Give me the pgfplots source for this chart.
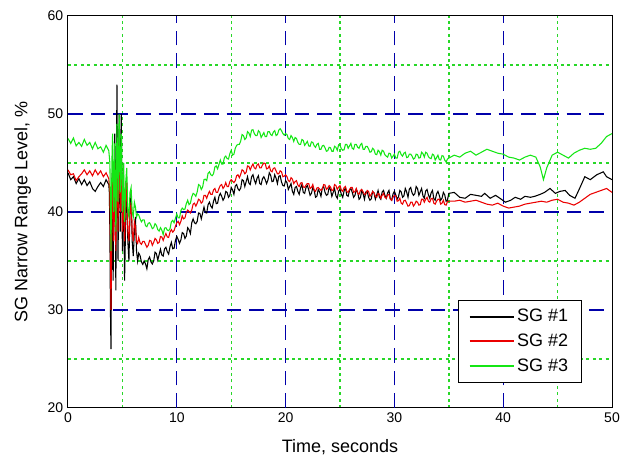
\documentclass[border=0pt]{standalone}
\usepackage{pgfplots}
\pgfplotsset{compat=1.18}
\usepackage{fontspec}
\setmainfont{Liberation Sans}
\definecolor{gridblue}{RGB}{0,0,170}
\definecolor{gridgreen}{RGB}{40,215,40}
\definecolor{sgred}{RGB}{235,0,0}
\definecolor{sggreen}{RGB}{20,230,20}
\pgfplotsset{
  legend image code/.code={\draw[#1, line width=1.3pt] (0pt,0pt) -- (33pt,0pt);},
}
\begin{document}
\begin{tikzpicture}
\begin{axis}[
  name=ax,
  scale only axis,
  width=408pt, height=294pt,
  xmin=0, xmax=50, ymin=20, ymax=60,
  xtick={0,10,...,50}, ytick={20,30,...,60},
  minor xtick={5,15,...,45}, minor ytick={25,35,45,55},
  xmajorgrids=false, ymajorgrids=false, xminorgrids=true, yminorgrids=true,
  extra x ticks={10,20,30,40}, extra x tick labels={},
  extra x tick style={xmajorgrids=true, xminorgrids=false},
  extra y ticks={30,40,50}, extra y tick labels={},
  extra y tick style={ymajorgrids=true, yminorgrids=false},
  major grid style={gridblue, line width=1.0pt, dash pattern=on 11pt off 6pt},
  minor grid style={gridgreen, line width=1.05pt, dash pattern=on 2.2pt off 2.6pt},
  major tick length=0pt, minor tick length=0pt,
  axis line style={black, line width=0.75pt},
  /pgf/number format/assume math mode=true,
  ticklabel style={font=\fontsize{10.5}{12}\selectfont},
  xlabel={Time, seconds},
  ylabel={SG Narrow Range Level, \%},
  label style={font=\fontsize{13.5}{16}\selectfont},
  xlabel style={yshift=-6pt},
  ylabel style={yshift=5.5pt},
  legend style={at={(0.945,0.064)}, anchor=south east, draw=black, line width=0.75pt,
    font=\fontsize{13.5}{16}\selectfont, row sep=3.5pt, inner xsep=8pt, inner ysep=5pt},
  legend cell align=left,
]
% SG #1
\addplot[black, line width=0.8pt] table {
0 44.0
0.25 43.3
0.5 43.6
0.75 42.9
1.0 43.4
1.25 42.8
1.5 43.3
1.75 42.7
2.0 43.1
2.25 42.4
2.5 42.1
2.75 42.6
3.0 43.0
3.25 42.6
3.5 43.3
3.75 42.8
3.8 42
3.85 38
3.9 30
3.95 26
4.0 35
4.05 44
4.1 38
4.15 33
4.2 41
4.3 48
4.35 40
4.4 32
4.45 45
4.5 53
4.55 44
4.6 35
4.65 42
4.7 50
4.75 46
4.8 38
4.85 47
4.9 50
4.95 42
5.0 36
5.05 40
5.1 45
5.15 38
5.2 33
5.3 39
5.4 43
5.5 37
5.6 35
5.7 40
5.8 42
5.9 37
6.0 35.5
6.1 38
6.2 39.5
6.3 36
6.4 35
6.5 35.8
6.625 35.55
6.75 34.9
6.875 34.65
7.0 35.0
7.125 34.7
7.25 34.2
7.375 35.15
7.5 35.4
7.625 34.9
7.75 34.7
7.875 35.0
8.0 35.9
8.125 35.75
8.25 35.1
8.375 35.65
8.5 36.2
8.625 35.6
8.75 35.5
8.875 36.25
9.0 36.4
9.125 35.95
9.25 35.7
9.375 36.45
9.5 36.9
9.625 36.25
9.75 36.3
9.875 37.1
10.0 37.5
10.125 37.2
10.25 36.8
10.375 37.15
10.5 37.9
10.625 37.8
10.75 37.3
10.875 37.55
11.0 38.4
11.125 38.2
11.25 37.8
11.375 38.9
11.5 39.3
11.625 38.9
11.75 38.8
11.875 39.05
12.0 39.9
12.125 39.85
12.25 39.3
12.375 39.9
12.5 40.5
12.625 39.95
12.75 39.9
12.875 40.75
13.0 41.0
13.125 40.6
13.25 40.4
13.375 41.1
13.5 41.5
13.625 40.85
13.75 40.9
13.875 41.6
14.0 41.9
14.125 41.6
14.25 41.2
14.375 41.45
14.5 42.1
14.625 42.0
14.75 41.5
14.875 41.7
15.0 42.5
15.125 42.25
15.25 41.8
15.375 42.65
15.5 42.8
15.625 42.35
15.75 42.2
15.875 42.45
16.0 43.3
16.125 43.2
16.25 42.6
16.375 43.1
16.5 43.6
16.625 42.95
16.75 42.8
16.875 43.6
17.0 43.8
17.125 43.25
17.25 42.9
17.375 43.45
17.5 43.7
17.625 42.9
17.75 42.8
17.875 43.4
18.0 43.6
18.125 43.3
18.25 42.9
18.375 43.25
18.5 44.0
18.625 43.75
18.75 43.1
18.875 43.15
19.0 43.8
19.125 43.45
19.25 42.9
19.375 43.65
19.5 43.7
19.625 43.05
19.75 42.7
19.875 42.65
20.0 43.2
20.125 43.0
20.25 42.3
20.375 42.6
20.5 42.9
20.625 42.1
20.75 41.8
20.875 42.5
21.0 42.6
21.125 42.1
21.25 41.8
21.375 42.45
21.5 42.8
21.625 42.0
21.75 41.9
21.875 42.5
22.0 42.7
22.125 42.25
22.25 41.7
22.375 41.9
22.5 42.5
22.625 42.2
22.75 41.5
22.875 41.6
23.0 42.3
23.125 42.05
23.25 41.6
23.375 42.45
23.5 42.6
23.625 42.0
23.75 41.7
23.875 41.8
24.0 42.5
24.125 42.3
24.25 41.6
24.375 42.0
24.5 42.4
24.625 41.65
24.75 41.4
24.875 42.15
25.0 42.3
25.125 41.8
25.25 41.5
25.375 42.15
25.5 42.5
25.625 41.7
25.75 41.6
25.875 42.2
26.0 42.4
26.125 42.0
26.25 41.5
26.375 41.7
26.5 42.3
26.625 42.0
26.75 41.3
26.875 41.45
27.0 42.2
27.125 41.85
27.25 41.3
27.375 42.05
27.5 42.1
27.625 41.5
27.75 41.2
27.875 41.35
28.0 42.1
28.125 41.95
28.25 41.3
28.375 41.75
28.5 42.2
28.625 41.5
28.75 41.3
28.875 42.05
29.0 42.2
29.125 41.7
29.25 41.4
29.375 41.95
29.5 42.2
29.625 41.35
29.75 41.2
29.875 41.85
30.0 42.1
30.125 41.75
30.25 41.3
30.375 41.55
30.5 42.2
30.625 42.05
30.75 41.5
30.875 41.65
31.0 42.4
31.125 42.05
31.25 41.5
31.375 42.35
31.5 42.5
31.625 41.95
31.75 41.7
31.875 41.85
32.0 42.6
32.125 42.4
32.25 41.7
32.375 42.05
32.5 42.4
32.625 41.65
32.75 41.4
32.875 42.15
33.0 42.3
33.125 41.75
33.25 41.4
33.375 41.95
33.5 42.2
33.625 41.35
33.75 41.2
33.875 41.85
34.0 42.1
34.125 41.7
34.25 41.2
34.375 41.4
34.5 42.0
34.625 41.75
34.75 41.1
34.875 41.2
35.0 41.9
35.5 42.0
36 41.5
36.5 41.4
37 41.8
37.5 41.7
38 41.6
38.3 41.9
38.8 41.4
39.3 41.7
39.7 41.4
40.2 41.0
40.7 41.2
41.1 41.5
41.6 41.3
42 41.6
42.5 41.5
42.9 41.6
43.4 41.8
43.8 42.0
44.3 42.4
44.8 41.9
45.2 42.1
45.7 42.2
46.1 41.7
46.6 41.4
47.1 42.6
47.5 43.6
48 43.3
48.6 43.8
49.2 44.1
49.5 43.6
50 43.3
};
\addlegendentry{SG \#1}
% SG #2
\addplot[sgred, line width=0.8pt] table {
0 44.3
0.25 43.8
0.5 43.9
0.75 43.2
1.0 43.6
1.25 43.9
1.5 44.3
1.75 43.8
2.0 44.2
2.25 43.7
2.5 44.3
2.75 43.8
3.0 44.2
3.25 43.6
3.5 44.0
3.75 43.4
3.85 42
3.9 36
3.95 30
4.0 35
4.05 41
4.1 44
4.15 40
4.2 37
4.25 41
4.3 45
4.35 40
4.4 36
4.45 42
4.5 46
4.55 43
4.6 38
4.65 43
4.7 47
4.75 44
4.8 40
4.85 43
4.9 46
4.95 42
5.0 38
5.05 40
5.1 43
5.15 40
5.2 37
5.3 41
5.4 43
5.5 38
5.6 37
5.7 40
5.8 41
5.9 38
6.0 37
6.1 39
6.2 38.5
6.3 37
6.4 36.8
6.5 37.4
6.625 36.85
6.75 36.7
6.875 37.0
7.0 37.0
7.125 36.7
7.25 36.4
7.375 36.6
7.5 37.1
7.625 37.05
7.75 36.6
7.875 36.9
8.0 37.3
8.125 37.15
8.25 36.8
8.375 36.9
8.5 37.5
8.625 37.45
8.75 37.1
8.875 37.5
9.0 37.8
9.125 37.45
9.25 37.4
9.375 37.95
9.5 38.2
9.625 37.95
9.75 38.1
9.875 38.55
10.0 38.9
10.125 39.05
10.25 38.7
10.375 39.05
10.5 39.6
10.625 39.3
10.75 39.4
10.875 39.95
11.0 40.2
11.125 40.05
11.25 39.9
11.375 40.2
11.5 40.8
11.625 40.9
11.75 40.6
11.875 40.9
12.0 41.3
12.125 41.2
12.25 40.9
12.375 41.05
12.5 41.7
12.625 41.7
12.75 41.4
12.875 41.8
13.0 42.1
13.125 41.8
13.25 41.8
13.375 42.25
13.5 42.4
13.625 42.0
13.75 42.0
13.875 42.4
14.0 42.7
14.125 42.8
14.25 42.4
14.375 42.6
14.5 43.0
14.625 42.6
14.75 42.6
14.875 43.1
15.0 43.3
15.125 43.15
15.25 43.0
15.375 43.2
15.5 43.7
15.625 43.8
15.75 43.5
15.875 43.85
16.0 44.3
16.125 44.2
16.25 43.9
16.375 44.05
16.5 44.7
16.625 44.65
16.75 44.3
16.875 44.65
17.0 44.9
17.125 44.5
17.25 44.4
17.375 44.8
17.5 44.9
17.625 44.5
17.75 44.5
17.875 44.8
18.0 45.0
18.125 44.95
18.25 44.4
18.375 44.45
18.5 44.7
18.625 44.2
18.75 44.1
18.875 44.45
19.0 44.5
19.125 44.2
19.25 43.9
19.375 43.9
19.5 44.2
19.625 44.1
19.75 43.6
19.875 43.65
20.0 43.8
20.125 43.6
20.25 43.2
20.375 43.1
20.5 43.5
20.625 43.35
20.75 42.9
20.875 43.1
21.0 43.2
21.125 42.75
21.25 42.6
21.375 42.95
21.5 43.0
21.625 42.55
21.75 42.5
21.875 42.75
22.0 42.9
22.125 42.9
22.25 42.4
22.375 42.5
22.5 42.8
22.625 42.25
22.75 42.1
22.875 42.45
23.0 42.5
23.125 42.35
23.25 42.2
23.375 42.35
23.5 42.8
23.625 42.75
23.75 42.3
23.875 42.45
24.0 42.7
24.125 42.55
24.25 42.2
24.375 42.25
24.5 42.8
24.625 42.7
24.75 42.3
24.875 42.55
25.0 42.7
25.125 42.25
25.25 42.1
25.375 42.5
25.5 42.6
25.625 42.1
25.75 42.0
25.875 42.3
26.0 42.5
26.125 42.5
26.25 42.0
26.375 42.1
26.5 42.4
26.625 41.9
26.75 41.8
26.875 42.2
27.0 42.3
27.125 42.05
27.25 41.8
27.375 41.85
27.5 42.2
27.625 42.1
27.75 41.6
27.875 41.8
28.0 42.1
28.125 41.95
28.25 41.6
28.375 41.5
28.5 41.9
28.625 41.8
28.75 41.4
28.875 41.7
29.0 41.9
29.125 41.5
29.25 41.4
29.375 41.75
29.5 41.8
29.625 41.3
29.75 41.2
29.875 41.5
30.0 41.7
30.125 41.65
30.25 41.1
30.375 41.15
30.5 41.4
30.625 40.9
30.75 40.8
30.875 41.15
31.0 41.2
31.125 40.9
31.25 40.6
31.375 40.65
31.5 41.0
31.625 41.0
31.75 40.6
31.875 40.8
32.0 41.1
32.125 41.0
32.25 40.7
32.375 40.75
32.5 41.3
32.625 41.3
32.75 41.0
32.875 41.3
33.0 41.5
33.125 41.1
33.25 41.0
33.375 41.35
33.5 41.4
33.625 40.9
33.75 40.8
33.875 41.1
34.0 41.3
34.125 41.3
34.25 40.8
34.375 40.9
34.5 41.2
34.625 40.75
34.75 40.7
34.875 41.05
35.0 41.1
35.5 41.1
36 41.2
36.5 41.0
37 41.1
37.5 41.2
38 41.0
38.5 40.8
39 40.7
39.5 40.9
40 40.6
40.5 40.4
41 40.5
41.5 40.6
42 40.8
42.5 40.9
43 41.0
43.5 41.1
44 41.0
44.5 41.2
45 41.3
45.5 41.0
46 40.9
46.5 40.7
47 41.0
47.5 41.4
48 41.8
48.5 42.0
49 42.2
49.5 42.4
50 42.0
};
\addlegendentry{SG \#2}
% SG #3
\addplot[sggreen, line width=0.8pt] table {
0 47.5
0.25 47.0
0.5 47.55
0.75 46.75
1.0 47.1
1.25 46.7
1.5 47.4
1.75 46.8
2.0 47.1
2.25 46.45
2.5 47.1
2.75 46.45
3.0 46.65
3.25 46.1
3.5 46.8
3.75 46.25
3.85 45
3.9 41
3.95 36
4.0 41
4.05 46
4.1 48
4.15 44
4.2 40
4.25 43
4.3 47
4.35 42
4.4 38
4.45 43
4.5 49
4.55 46
4.6 41
4.65 45
4.7 50
4.75 47
4.8 42
4.85 45
4.9 48
4.95 44
5.0 40
5.05 42
5.1 45
5.15 42
5.2 39
5.3 43
5.4 44.5
5.5 40
5.6 39.5
5.7 42
5.8 42.5
5.9 40
6.0 39.5
6.1 41
6.2 40.5
6.3 39.5
6.4 39.8
6.5 39.7
6.625 39.3
6.75 39.0
6.875 39.2
7.0 39.2
7.125 38.6
7.25 38.5
7.375 38.85
7.5 38.9
7.625 38.65
7.75 38.3
7.875 38.4
8.0 38.8
8.125 38.65
8.25 38.2
8.375 38.05
8.5 38.4
8.625 38.15
8.75 37.7
8.875 38.35
9.0 38.4
9.125 38.15
9.25 38.1
9.375 38.3
9.5 39.0
9.625 39.15
9.75 38.9
9.875 39.35
10.0 39.8
10.125 39.4
10.25 39.4
10.375 40.15
10.5 40.4
10.625 40.25
10.75 40.3
10.875 40.85
11.0 41.2
11.125 40.75
11.25 40.9
11.375 41.55
11.5 41.9
11.625 41.8
11.75 41.6
11.875 42.05
12.0 42.8
12.125 42.7
12.25 42.3
12.375 42.55
12.5 43.3
12.625 43.35
12.75 43.2
12.875 43.95
13.0 44.1
13.125 43.8
13.25 43.7
13.375 43.9
13.5 44.6
13.625 44.7
13.75 44.4
13.875 44.85
14.0 45.3
14.125 44.9
14.25 44.9
14.375 45.55
14.5 45.7
14.625 45.45
14.75 45.4
14.875 45.95
15.0 46.3
15.125 45.8
15.25 45.9
15.375 46.5
15.5 46.8
15.625 46.9
15.75 46.9
15.875 47.25
16.0 47.9
16.125 47.8
16.25 47.4
16.375 47.55
16.5 48.2
16.625 48.05
16.75 47.7
16.875 48.35
17.0 48.4
17.125 48.0
17.25 47.8
17.375 47.8
17.5 48.3
17.625 48.15
17.75 47.6
17.875 47.85
18.0 48.1
18.125 47.7
18.25 47.7
18.375 48.2
18.5 48.2
18.625 47.9
18.75 47.8
18.875 48.15
19.0 48.3
19.125 47.8
19.25 47.9
19.375 48.35
19.5 48.5
19.625 48.3
19.75 48.0
19.875 47.85
20.0 48.0
20.125 47.9
20.25 47.5
20.375 47.4
20.5 47.8
20.625 47.6
20.75 47.2
20.875 47.6
21.0 47.5
21.125 47.1
21.25 46.9
21.375 46.9
21.5 47.4
21.625 47.3
21.75 46.8
21.875 47.0
22.0 47.2
22.125 46.75
22.25 46.7
22.375 47.15
22.5 47.1
22.625 46.75
22.75 46.6
22.875 46.9
23.0 47.0
23.125 46.4
23.25 46.4
23.375 46.75
23.5 46.8
23.625 46.55
23.75 46.2
23.875 46.25
24.0 46.6
24.125 46.55
24.25 46.2
24.375 46.2
24.5 46.7
24.625 46.6
24.75 46.3
24.875 46.85
25.0 46.8
25.125 46.45
25.25 46.3
25.375 46.35
25.5 46.9
25.625 46.9
25.75 46.5
25.875 46.75
26.0 47.0
26.125 46.5
26.25 46.4
26.375 46.9
26.5 46.9
26.625 46.6
26.75 46.5
26.875 46.85
27.0 47.0
27.125 46.4
27.25 46.4
27.375 46.7
27.5 46.7
27.625 46.45
27.75 46.1
27.875 46.15
28.0 46.5
28.125 46.35
28.25 45.9
28.375 45.85
28.5 46.3
28.625 46.15
28.75 45.8
28.875 46.3
29.0 46.2
29.125 45.85
29.25 45.7
29.375 45.6
29.5 46.0
29.625 45.95
29.75 45.5
29.875 45.7
30.0 45.9
30.125 45.5
30.25 45.5
30.375 46.1
30.5 46.2
30.625 45.85
30.75 45.7
30.875 46.0
31.0 46.1
31.125 45.55
31.25 45.6
31.375 45.9
31.5 45.9
31.625 45.7
31.75 45.4
31.875 45.5
32.0 45.9
32.125 45.85
32.25 45.5
32.375 45.55
32.5 46.1
32.625 45.95
32.75 45.6
32.875 46.1
33.0 46.0
33.125 45.65
33.25 45.5
33.375 45.45
33.5 45.9
33.625 45.8
33.75 45.3
33.875 45.55
34.0 45.8
34.125 45.35
34.25 45.3
34.375 45.75
34.5 45.7
34.625 45.3
34.75 45.1
34.875 45.4
35.0 45.5
35.5 45.8
36 45.6
36.5 46.0
37 46.2
37.5 45.8
38 46.1
38.5 46.4
39 46.2
39.5 46.0
40 45.9
40.5 45.6
41 45.5
41.5 45.3
42 45.6
42.5 45.8
43 45.6
43.4 44.6
43.7 43.3
44 44.5
44.5 45.8
45 46.1
45.5 45.8
46 45.5
46.5 46.0
47 46.3
47.5 46.5
48 46.4
48.5 46.5
49 47.0
49.5 47.7
50 48.0
};
\addlegendentry{SG \#3}
\end{axis}
\pgfresetboundingbox
\path ([shift={(-51pt,-37.5pt)}]ax.south west) rectangle ([shift={(6pt,12pt)}]ax.north east);
\end{tikzpicture}
\end{document}
